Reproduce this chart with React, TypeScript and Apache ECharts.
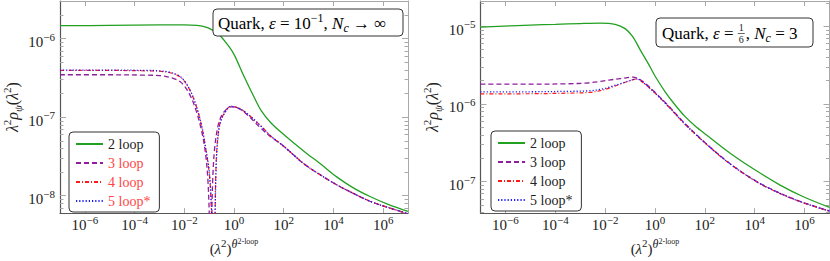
import React, { useEffect, useRef } from "react";
import * as echarts from "echarts";

const FONT = "Liberation Serif";
const TEXT = "#222";
const GREEN = "#22a022";
const PURPLE = "#8e1e9e";
const RED = "#ff1a1a";
const BLUE = "#1a1aff";
const LEGEND_RED = "#ff4444";

// ---------- axes (log10 exponents) ----------
const xTickExponents = [-6, -4, -2, 0, 2, 4, 6];
const leftYTickExponents = [-8, -7, -6];
const rightYTickExponents = [-7, -6, -5];
const minorMultipliers = [2, 3, 4, 5, 6, 7, 8, 9];
const leftMinorDecades = [-9, -8, -7, -6];
const rightMinorDecades = [-8, -7, -6, -5];
const xRange = [-7, 7];
const leftYRange = [-8.221, -5.521];
const rightYRange = [-7.404, -4.675];

const seriesNames = ["2 loop", "3 loop", "4 loop", "5 loop*"];

// ---------- left panel: Quark, eps = 1e-1, Nc -> inf (log10 x, log10 y) ----------
const left2LoopX = [-7, -5, -3, -2, -1.5, -1.2, -0.9, -0.6, -0.3, 0, 0.4, 0.8, 1.1, 1.48, 2, 2.8, 3.5, 4.13, 4.8, 5.47, 6.2, 7];
const left2LoopY = [-5.835, -5.832, -5.826, -5.825, -5.832, -5.848, -5.885, -5.95, -6.06, -6.2, -6.48, -6.74, -6.92, -7.07, -7.22, -7.43, -7.6, -7.76, -7.9, -8.01, -8.11, -8.2];

const left3LoopX = [-7, -5, -3.5, -3, -2.5, -2.12, -1.8, -1.52, -1.3, -1.15, -1.05, -0.99, -0.96, -0.94, -0.92, -0.89, -0.85, -0.78, -0.65, -0.5, -0.3, -0.12, 0.2, 0.5, 1.08, 1.48, 2, 2.8, 3.5, 4.13, 4.8, 5.47, 6.2, 7];
const left3LoopY = [-6.46, -6.46, -6.465, -6.47, -6.5, -6.56, -6.7, -6.92, -7.18, -7.45, -7.8, -8.3, -9, -10, -9, -8.2, -7.75, -7.4, -7.12, -6.98, -6.9, -6.87, -6.89, -6.96, -7.14, -7.25, -7.37, -7.59, -7.74, -7.86, -7.97, -8.07, -8.15, -8.23];

const left45LoopX = [-7, -5, -3.5, -3, -2.5, -2.12, -1.8, -1.52, -1.3, -1.15, -1.0, -0.92, -0.87, -0.84, -0.82, -0.8, -0.77, -0.72, -0.65, -0.55, -0.39, -0.12, 0.28, 0.7, 1.2, 1.48, 2, 2.8, 3.5, 4.13, 4.8, 5.47, 6.2, 7];
const left4LoopY = [-6.405, -6.405, -6.41, -6.415, -6.44, -6.5, -6.64, -6.86, -7.12, -7.38, -7.7, -8.1, -8.6, -9.2, -10, -9.2, -8.4, -7.6, -7.25, -7.06, -6.95, -6.86, -6.9, -7.0, -7.15, -7.24, -7.37, -7.59, -7.74, -7.86, -7.97, -8.07, -8.15, -8.23];
const left5LoopY = [-6.4, -6.4, -6.405, -6.41, -6.435, -6.495, -6.635, -6.855, -7.11, -7.37, -7.68, -8.05, -8.5, -9.1, -9.8, -9.3, -8.5, -7.65, -7.27, -7.07, -6.955, -6.862, -6.9, -7.0, -7.15, -7.24, -7.37, -7.59, -7.74, -7.86, -7.97, -8.07, -8.15, -8.225];

// ---------- right panel: Quark, eps = 1/6, Nc = 3 ----------
const right2LoopX = [-7, -5, -4, -3, -2.2, -1.6, -1.2, -0.9, -0.6, -0.27, 0, 0.4, 0.8, 1.2, 1.6, 2.07, 3, 4.07, 5, 5.93, 7];
const right2LoopY = [-5.01, -4.985, -4.975, -4.965, -4.96, -4.975, -5.03, -5.13, -5.3, -5.48, -5.64, -5.84, -6.01, -6.16, -6.28, -6.4, -6.63, -6.86, -7.04, -7.19, -7.33];

const right3LoopX = [-7, -5, -3.5, -2.73, -2.2, -1.8, -1.4, -1.1, -0.88, -0.6, -0.3, 0, 0.5, 1.2, 2.07, 3, 4.07, 5, 5.93, 7];
const right3LoopY = [-5.745, -5.745, -5.74, -5.73, -5.71, -5.69, -5.675, -5.66, -5.655, -5.685, -5.76, -5.85, -6.01, -6.25, -6.515, -6.765, -6.995, -7.145, -7.265, -7.375];

const right45LoopX = [-7, -5, -3.4, -2.6, -2.08, -1.7, -1.4, -1.0, -0.73, -0.5, 0, 0.5, 1.2, 2.07, 3, 4.07, 5, 5.93, 7];
const right4LoopY = [-5.87, -5.868, -5.86, -5.85, -5.82, -5.78, -5.745, -5.7, -5.68, -5.72, -5.86, -6.02, -6.26, -6.52, -6.77, -7.0, -7.15, -7.27, -7.38];
const right5LoopY = [-5.845, -5.843, -5.837, -5.83, -5.805, -5.77, -5.74, -5.698, -5.678, -5.718, -5.858, -6.018, -6.258, -6.518, -6.768, -6.998, -7.148, -7.268, -7.378];

// ---------- helpers ----------
const pair = (xs: number[], ys: number[]) => xs.map((x, i) => [x, ys[i]]);
const minorTicks = (decades: number[], range: number[]) =>
  decades
    .flatMap((d) => minorMultipliers.map((m) => d + Math.log10(m)))
    .filter((v) => v > range[0] && v < range[1]);

const supText = (v: number) => {
  const n = Math.round(v);
  return n < 0 ? "\u2212" + Math.abs(n) : String(n);
};
const powLabel = (v: number) => `{b|10}{s|${supText(v)}}`;
const powRich = {
  b: { fontFamily: FONT, fontSize: 15, lineHeight: 22, color: TEXT },
  s: { fontFamily: FONT, fontSize: 11, lineHeight: 10, verticalAlign: "top", color: TEXT },
};

const xNameText = "{b|(}{i|\u03bb}{s|2}{b|)}{t|\u03b8}{u|2-loop}";
const yNameText = "{i|\u03bb}{s|2}{i|\u03c1}{d|\u03c8}{b|(}{i|\u03bb}{s|2}{b|)}";
const xNameRich = {
  b: { fontFamily: FONT, fontSize: 15, lineHeight: 22, color: TEXT },
  i: { fontFamily: FONT, fontSize: 15, fontStyle: "italic", lineHeight: 22, color: TEXT },
  s: { fontFamily: FONT, fontSize: 11, lineHeight: 10, verticalAlign: "top", color: TEXT },
  t: { fontFamily: FONT, fontSize: 12, fontStyle: "italic", lineHeight: 10, verticalAlign: "top", color: TEXT },
  u: { fontFamily: FONT, fontSize: 8, lineHeight: 18, verticalAlign: "top", color: TEXT },
};
const yNameRich = {
  b: { fontFamily: FONT, fontSize: 16, lineHeight: 22, color: TEXT },
  i: { fontFamily: FONT, fontSize: 16, fontStyle: "italic", lineHeight: 22, color: TEXT },
  s: { fontFamily: FONT, fontSize: 11, lineHeight: 10, verticalAlign: "top", color: TEXT },
  d: { fontFamily: FONT, fontSize: 11, fontStyle: "italic", lineHeight: 13, verticalAlign: "bottom", color: TEXT },
};

const annRich = {
  r: { fontFamily: FONT, fontSize: 17, lineHeight: 22, color: TEXT },
  i: { fontFamily: FONT, fontSize: 17, fontStyle: "italic", lineHeight: 22, color: TEXT },
  s: { fontFamily: FONT, fontSize: 12, lineHeight: 12, verticalAlign: "top", color: TEXT },
  d: { fontFamily: FONT, fontSize: 12, fontStyle: "italic", lineHeight: 12, verticalAlign: "bottom", color: TEXT },
};

const DARK_AXIS = "#555";
const LIGHT_AXIS = "#a8a8a8";
const TICK = "#a8a8a8";

function makeXAxes(gridIndex: number) {
  const base = {
    type: "value",
    gridIndex,
    min: xRange[0],
    max: xRange[1],
    interval: 1,
    splitLine: { show: false },
  };
  return [
    {
      ...base,
      position: "bottom",
      axisLine: { show: true, onZero: false, lineStyle: { color: DARK_AXIS, width: 1.2 } },
      axisTick: { show: true, inside: true, length: 5, customValues: xTickExponents, lineStyle: { color: TICK } },
      axisLabel: { show: true, customValues: xTickExponents, formatter: powLabel, rich: powRich, margin: 1 },
      name: xNameText,
      nameLocation: "middle",
      nameGap: 22,
      nameTextStyle: { rich: xNameRich },
    },
    {
      ...base,
      position: "top",
      axisLine: { show: true, onZero: false, lineStyle: { color: LIGHT_AXIS, width: 1 } },
      axisTick: { show: true, inside: true, length: 5, customValues: xTickExponents, lineStyle: { color: TICK } },
      axisLabel: { show: false },
    },
  ];
}

function makeYAxes(gridIndex: number, range: number[], majors: number[], minors: number[]) {
  const base = {
    type: "value",
    gridIndex,
    min: range[0],
    max: range[1],
    splitLine: { show: false },
  };
  return [
    {
      ...base,
      position: "left",
      axisLine: { show: true, onZero: false, lineStyle: { color: DARK_AXIS, width: 1.2 } },
      axisTick: { show: true, inside: true, length: 6, customValues: majors, lineStyle: { color: TICK } },
      axisLabel: { show: true, customValues: majors, formatter: powLabel, rich: powRich, margin: 5, padding: [7, 0, 0, 0] },
      name: yNameText,
      nameLocation: "middle",
      nameGap: 37,
      nameRotate: 90,
      nameTextStyle: { rich: yNameRich },
    },
    {
      ...base,
      position: "right",
      axisLine: { show: true, onZero: false, lineStyle: { color: LIGHT_AXIS, width: 1 } },
      axisTick: { show: true, inside: true, length: 6, customValues: majors, lineStyle: { color: TICK } },
      axisLabel: { show: false },
    },
    {
      ...base,
      position: "left",
      axisLine: { show: false, onZero: false },
      axisTick: { show: true, inside: true, length: 3.5, customValues: minors, lineStyle: { color: TICK } },
      axisLabel: { show: false },
    },
    {
      ...base,
      position: "right",
      axisLine: { show: false, onZero: false },
      axisTick: { show: true, inside: true, length: 3.5, customValues: minors, lineStyle: { color: TICK } },
      axisLabel: { show: false },
    },
  ];
}

const lineStyles: Record<string, any> = {
  "2 loop": { color: GREEN, width: 1.3, type: "solid" },
  "3 loop": { color: PURPLE, width: 1.3, type: [5, 3] },
  "4 loop": { color: RED, width: 1.2, type: [4, 2, 1, 2] },
  "5 loop*": { color: BLUE, width: 1.3, type: [1.2, 2] },
};

function makeSeries(name: string, xs: number[], ys: number[], xAxisIndex: number, yAxisIndex: number) {
  const ls = lineStyles[name];
  return {
    type: "line",
    name,
    xAxisIndex,
    yAxisIndex,
    data: pair(xs, ys),
    showSymbol: false,
    symbol: "none",
    smooth: 0.35,
    lineStyle: ls,
    itemStyle: { color: ls.color },
    clip: true,
  };
}

function makeLegend(left: number, top: number, redText: boolean) {
  return {
    orient: "vertical",
    left,
    top,
    itemWidth: 27,
    itemHeight: 12,
    itemGap: 5,
    padding: [5, 9, 4, 6],
    backgroundColor: "#fff",
    borderColor: "#333",
    borderWidth: 1,
    borderRadius: 4,
    selectedMode: false,
    itemStyle: { opacity: 0 },
    textStyle: { fontFamily: FONT, fontSize: 14, color: TEXT, lineHeight: 12 },
    data: seriesNames.map((n, i) =>
      redText && i > 0 ? { name: n, textStyle: { color: LEGEND_RED } } : { name: n }
    ),
    z: 20,
  };
}

function measureRich(text: string, rich: any) {
  try {
    const t = new (echarts.graphic as any).Text({ style: { text, rich } });
    return t.getBoundingRect().width;
  } catch (e) {
    return 90;
  }
}

export default function App() {
  const ref = useRef<HTMLDivElement>(null);
  useEffect(() => {
    if (!ref.current) return;
    const chart = echarts.init(ref.current, undefined, { renderer: "svg" });

    const rightPrefix = "{r|Quark, }{i|\u03b5}{r| = }";
    const rightStart = 662;
    const fracCenter = rightStart + measureRich(rightPrefix, annRich) + 3.5;

    const option: any = {
      animation: false,
      backgroundColor: "#fff",
      textStyle: { fontFamily: FONT },
      grid: [
        { left: 58, top: 1, width: 350, height: 216 },
        { left: 480.5, top: 1, width: 349, height: 216 },
      ],
      xAxis: [...makeXAxes(0), ...makeXAxes(1)],
      yAxis: [
        ...makeYAxes(0, leftYRange, leftYTickExponents, minorTicks(leftMinorDecades, leftYRange)),
        ...makeYAxes(1, rightYRange, rightYTickExponents, minorTicks(rightMinorDecades, rightYRange)),
      ],
      legend: [makeLegend(69, 132, true), makeLegend(491, 131, false)],
      series: [
        makeSeries("2 loop", left2LoopX, left2LoopY, 0, 0),
        makeSeries("3 loop", left3LoopX, left3LoopY, 0, 0),
        makeSeries("4 loop", left45LoopX, left4LoopY, 0, 0),
        makeSeries("5 loop*", left45LoopX, left5LoopY, 0, 0),
        makeSeries("2 loop", right2LoopX, right2LoopY, 2, 4),
        makeSeries("3 loop", right3LoopX, right3LoopY, 2, 4),
        makeSeries("4 loop", right45LoopX, right4LoopY, 2, 4),
        makeSeries("5 loop*", right45LoopX, right5LoopY, 2, 4),
      ],
      graphic: [
        {
          type: "rect",
          z: 30,
          shape: { x: 213, y: 9, width: 190, height: 27, r: 4 },
          style: { fill: "#fff", stroke: "#333", lineWidth: 1 },
        },
        {
          type: "text",
          z: 31,
          x: 218,
          y: 23,
          style: {
            text: "{r|Quark, }{i|\u03b5}{r| = 10}{s|\u22121}{r|, }{i|N}{d|c}{r| \u2192 \u221e}",
            rich: annRich,
            align: "left",
            verticalAlign: "middle",
          },
        },
        {
          type: "rect",
          z: 30,
          shape: { x: 656, y: 18, width: 157, height: 29, r: 4 },
          style: { fill: "#fff", stroke: "#333", lineWidth: 1 },
        },
        {
          type: "text",
          z: 31,
          x: rightStart,
          y: 33,
          style: { text: rightPrefix, rich: annRich, align: "left", verticalAlign: "middle" },
        },
        {
          type: "text",
          z: 31,
          x: fracCenter,
          y: 27.5,
          style: { text: "1", fontFamily: FONT, fontSize: 10, fill: TEXT, align: "center", verticalAlign: "middle" },
        },
        {
          type: "line",
          z: 31,
          shape: { x1: fracCenter - 3.5, y1: 33.5, x2: fracCenter + 3.5, y2: 33.5 },
          style: { stroke: TEXT, lineWidth: 0.7 },
        },
        {
          type: "text",
          z: 31,
          x: fracCenter,
          y: 39.5,
          style: { text: "6", fontFamily: FONT, fontSize: 10, fill: TEXT, align: "center", verticalAlign: "middle" },
        },
        {
          type: "text",
          z: 31,
          x: fracCenter + 4.5,
          y: 33,
          style: { text: "{r|, }{i|N}{d|c}{r| = 3}", rich: annRich, align: "left", verticalAlign: "middle" },
        },
      ],
    };
    chart.setOption(option);
    return () => chart.dispose();
  }, []);
  return (
    <div
      ref={ref}
      style={{ position: "fixed", left: 0, top: 0, width: 830, height: 261, background: "#fff" }}
    />
  );
}
